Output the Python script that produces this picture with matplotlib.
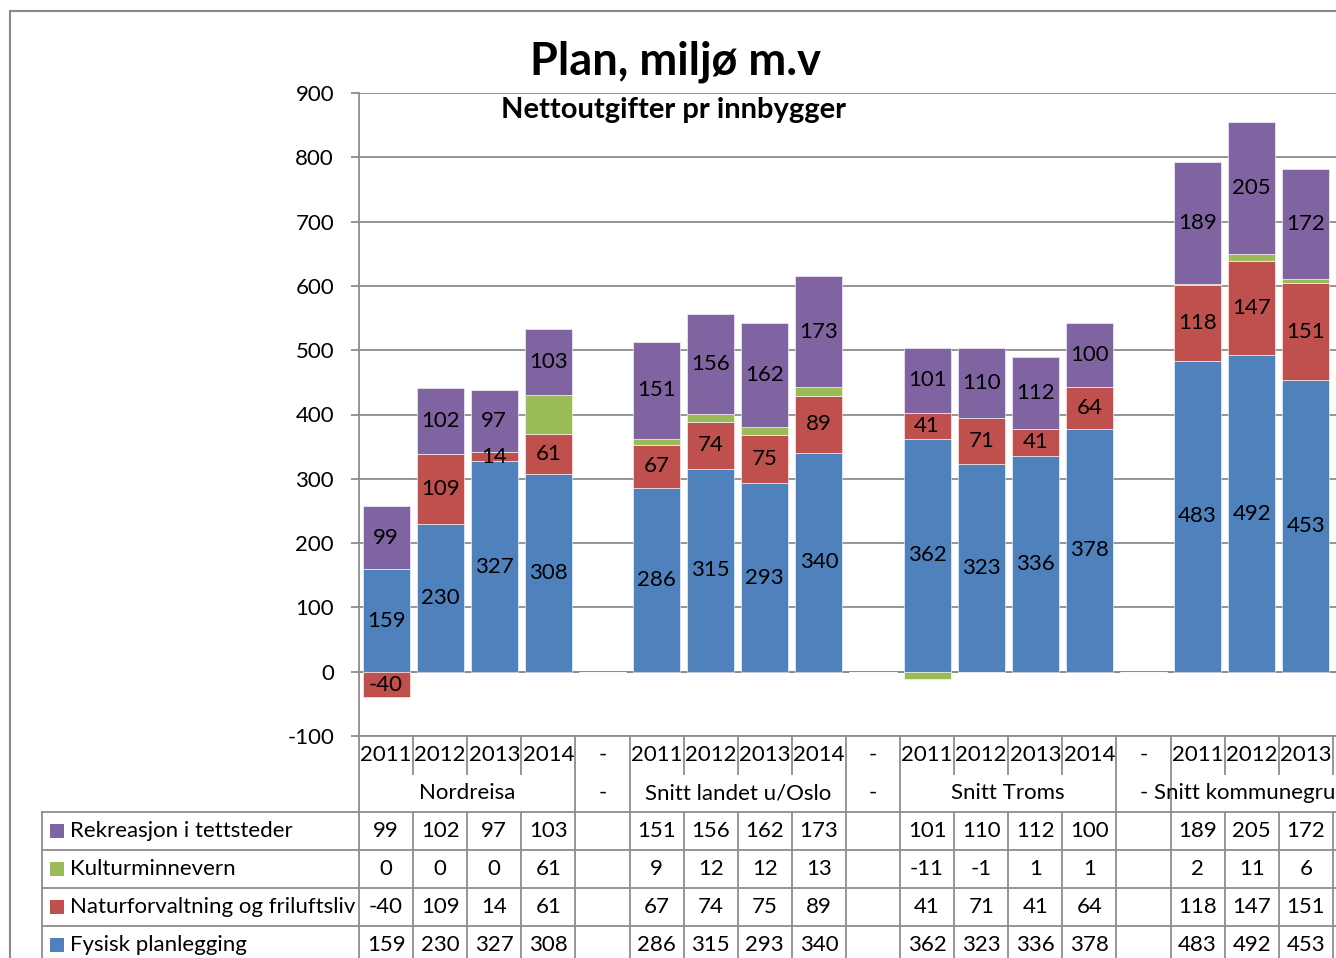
import numpy as np
import matplotlib.pyplot as plt
from matplotlib.lines import Line2D
from matplotlib.patches import Rectangle
from matplotlib.transforms import blended_transform_factory

plt.rcParams['font.family'] = ['Lato', 'DejaVu Sans']
plt.rcParams['axes.unicode_minus'] = False

# KOSTRA: plan, miljø - netto driftsutgifter pr innbygger
years = ['2011', '2012', '2013', '2014']
groups = ['Nordreisa', 'Snitt landet u/Oslo', 'Snitt Troms', 'Snitt kommunegruppe 12']

series_names = ['Rekreasjon i tettsteder', 'Kulturminnevern',
                'Naturforvaltning og friluftsliv', 'Fysisk planlegging']

rekreasjon = [[99, 102, 97, 103], [151, 156, 162, 173], [101, 110, 112, 100], [189, 205, 172, None]]
kulturminne = [[0, 0, 0, 61], [9, 12, 12, 13], [-11, -1, 1, 1], [2, 11, 6, None]]
naturforv = [[-40, 109, 14, 61], [67, 74, 75, 89], [41, 71, 41, 64], [118, 147, 151, None]]
fysisk = [[159, 230, 327, 308], [286, 315, 293, 340], [362, 323, 336, 378], [483, 492, 453, None]]

colors = {'Fysisk planlegging': '#4F81BD', 'Naturforvaltning og friluftsliv': '#C0504D',
          'Kulturminnevern': '#9BBB59', 'Rekreasjon i tettsteder': '#8064A2'}

FS = 16
W, H = 1336, 958
fig = plt.figure(figsize=(W / 100, H / 100), dpi=100)
ax = fig.add_axes([359 / W, 1 - 736 / H, 1028 / W, (736 - 93) / H])


def flatten(rows):
    # one slot per year, plus an empty slot between the groups
    out = []
    for gi, r in enumerate(rows):
        out += [np.nan if v is None else v for v in r]
        if gi < len(rows) - 1:
            out.append(np.nan)
    return np.array(out, dtype=float)


data = {'Fysisk planlegging': flatten(fysisk),
        'Naturforvaltning og friluftsliv': flatten(naturforv),
        'Kulturminnevern': flatten(kulturminne),
        'Rekreasjon i tettsteder': flatten(rekreasjon)}
n = len(data['Fysisk planlegging'])
x = np.arange(n)

pos_bottom = np.zeros(n)
neg_bottom = np.zeros(n)
stack_order = ['Fysisk planlegging', 'Naturforvaltning og friluftsliv',
               'Kulturminnevern', 'Rekreasjon i tettsteder']
for name in stack_order:
    vals = data[name]
    v = np.nan_to_num(vals)
    bottom = np.where(v >= 0, pos_bottom, neg_bottom)
    ax.bar(x, v, 0.87, bottom=bottom, color=colors[name],
           edgecolor='#ffffff', linewidth=0.4, zorder=3)
    if name != 'Kulturminnevern':
        for xi, vi, bi in zip(x, vals, bottom):
            if not np.isnan(vi):
                ax.text(xi, bi + vi / 2, '%d' % vi, ha='center', va='center',
                        fontsize=FS, zorder=4)
    pos_bottom += np.where(v >= 0, v, 0)
    neg_bottom += np.where(v < 0, v, 0)

grid_col = '#8c8c8c'
ax.set_xlim(-0.5, n - 0.5)
ax.set_ylim(-100, 900)
ax.set_yticks(np.arange(-100, 901, 100))
ax.yaxis.grid(True, color=grid_col, linewidth=1.3, zorder=0)
ax.axhline(0, color=grid_col, linewidth=1.3, zorder=2)
ax.set_xticks([])
ax.tick_params(axis='y', length=6, width=1.3, color=grid_col, labelsize=FS, pad=12)
for s in ['top', 'right']:
    ax.spines[s].set_visible(False)
for s in ['left', 'bottom']:
    ax.spines[s].set_color(grid_col)
    ax.spines[s].set_linewidth(1.3)

# data table below the plot
trX = blended_transform_factory(ax.transData, fig.transFigure)
trF = fig.transFigure


def fy(py):
    return 1 - py / H


def line(xs, ys, tr):
    fig.add_artist(Line2D(xs, ys, transform=tr, color=grid_col, linewidth=1.3, clip_on=False))


xl, xr = -0.5, n - 0.5
table_rows = [rekreasjon, kulturminne, naturforv, fysisk]
row_tops = [812, 850, 888, 926]
row_h = 38
has_data = ~np.isnan(data['Fysisk planlegging'])

# header: years and group names
col = 0
for gi, g in enumerate(groups):
    start = col
    for yr in years:
        if has_data[col]:
            fig.text(col, fy(755), yr, transform=trX, ha='center', va='center', fontsize=FS)
        if yr != years[0]:
            line([col - 0.5, col - 0.5], [fy(736), fy(774)], trX)
        col += 1
    fig.text((start + col - 1) / 2, fy(793), g, transform=trX, ha='center', va='center', fontsize=FS)
    line([start - 0.5, start - 0.5], [fy(736), fy(812)], trX)
    line([col - 0.5, col - 0.5], [fy(736), fy(812)], trX)
    if gi < len(groups) - 1:
        fig.text(col, fy(755), '-', transform=trX, ha='center', va='center', fontsize=FS)
        fig.text(col, fy(793), '-', transform=trX, ha='center', va='center', fontsize=FS)
        col += 1

# horizontal table lines
for py in row_tops:
    fig.add_artist(Line2D([42 / W, 1.2], [fy(py), fy(py)], transform=trF,
                          color=grid_col, linewidth=1.3))
line([42 / W, 42 / W], [fy(812), 0], trF)
for xi in np.arange(xl, xr + 1):
    line([xi, xi], [fy(812), 0], trX)

# rows: legend key, name and values
for ri, (name, rows) in enumerate(zip(series_names, table_rows)):
    cy = row_tops[ri] + row_h / 2
    fig.add_artist(Rectangle((50 / W, fy(cy + 7)), 14 / W, 14 / H, transform=trF,
                             facecolor=colors[name], edgecolor='none'))
    fig.text(70 / W, fy(cy), name, transform=trF, ha='left', va='center', fontsize=FS)
    vals = flatten(rows)
    for xi, v in zip(x, vals):
        if not np.isnan(v):
            fig.text(xi, fy(cy), '%d' % v, transform=trX, ha='center', va='center', fontsize=FS)

# chart border
fig.add_artist(Line2D([10 / W, 10 / W], [fy(11), 0], transform=trF, color='#8a8a8a', linewidth=1.5))
fig.add_artist(Line2D([10 / W, 1], [fy(11), fy(11)], transform=trF, color='#8a8a8a', linewidth=1.5))

fig.text(675 / W, fy(62), 'Plan, miljø m.v', ha='center', va='center', fontsize=32.5, fontweight='bold')
fig.text(674 / W, fy(110), 'Nettoutgifter pr innbygger', ha='center', va='center',
         fontsize=21, fontweight='bold')

fig.savefig('out.png', dpi=100)
